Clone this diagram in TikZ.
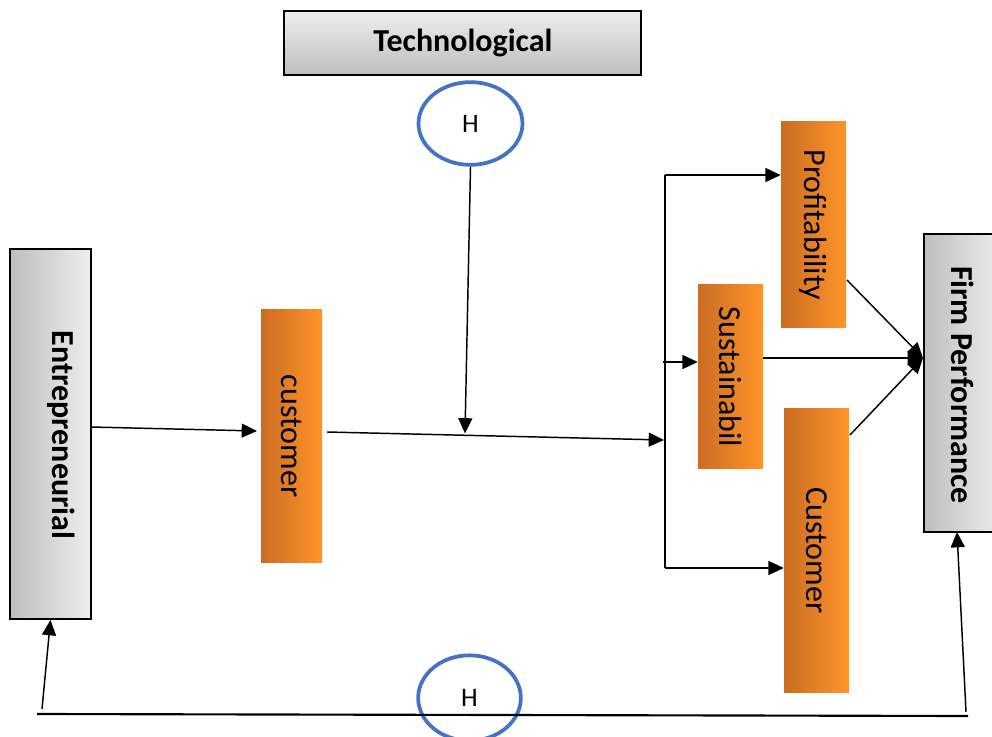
\documentclass[tikz,border=0pt]{standalone}
\usepackage{fontspec}
\setmainfont{Carlito}
\usetikzlibrary{arrows.meta,shapes.geometric}
\definecolor{hblue}{HTML}{4472C4}
\definecolor{orL}{RGB}{202,108,34}
\definecolor{orR}{RGB}{255,148,42}
\definecolor{gyD}{RGB}{190,190,190}
\definecolor{gyL}{RGB}{238,238,238}
\tikzset{
  graybox/.style={draw=black, line width=1.4pt, inner sep=0pt, left color=gyD, right color=gyL},
  orbox/.style={draw=none, inner sep=0pt, left color=orL, right color=orR},
  hell/.style={ellipse, draw=hblue, line width=2.8pt, inner sep=0pt, font=\fontsize{20}{24}\selectfont},
  vtxt/.style={rotate=-90, inner sep=0pt, font=\fontsize{24}{28}\selectfont},
  vbold/.style={rotate=-90, inner sep=0pt, font=\fontsize{24}{28}\selectfont\bfseries},
  arr/.style={line width=1.1pt, -{Triangle[length=11.5pt,width=10.5pt]}},
  ln/.style={line width=1.1pt}
}
\begin{document}
\begin{tikzpicture}[x=0.75pt,y=-0.75pt]
\clip (0,0) rectangle (992,737);
\fill[white] (0,0) rectangle (992,737);

% boxes
\node[graybox, top color=gyL, bottom color=gyD, minimum width=267.75pt, minimum height=48pt] (tech) at (462.5,43) {};
\node[font=\fontsize{24}{28}\selectfont\bfseries] (techT) at (463,43) {Technological};

\node[graybox, minimum width=60.75pt, minimum height=277.5pt] (ent) at (50.5,434) {};
\node[vbold, anchor=base] (entT) at (52,435) {Entrepreneurial};

\node[orbox, minimum width=45.75pt, minimum height=189pt] (cust1) at (291.5,436) {};
\node[vtxt] (cust1T) at (cust1) {customer};

\node[orbox, minimum width=48.75pt, minimum height=154.5pt] (prof) at (813.5,225) {};
\node[vtxt] (profT) at (prof) {Profitability};

\node[orbox, minimum width=48.75pt, minimum height=138pt] (sust) at (730.5,377) {};
\node[vtxt] (sustT) at (sust) {Sustainabil};

\node[orbox, minimum width=48.75pt, minimum height=212.25pt] (cust2) at (816.5,550.5) {};
\node[vtxt] (cust2T) at (cust2) {Customer};

\node[graybox, minimum width=58.5pt, minimum height=223.5pt] (firm) at (963,383) {};
\node[vbold] (firmT) at (963,385) {Firm Performance};

% ellipses
\node[hell, minimum width=78pt, minimum height=62pt] (h1) at (470.5,123.5) {H};
\node[hell, minimum width=77pt, minimum height=64pt] (h2) at (469.5,698) {H};

% coordinates
\coordinate (a0) at (91,427);
\coordinate (a1) at (257,431);
\coordinate (m0) at (327,432);
\coordinate (mt) at (465,433.5);
\coordinate (j) at (664,440);
\coordinate (vtop) at (665,175);
\coordinate (vmid) at (663,362);
\coordinate (vbot) at (665,568);
\coordinate (fin) at (923,358);
\coordinate (p0) at (847,280);
\coordinate (c0) at (850,435);
\coordinate (bl) at (37,714);
\coordinate (br) at (968,716);
\coordinate (bl0) at (42,709);
\coordinate (br0) at (966,712);
\coordinate (ftip) at (957,532);

% connectors
\draw[arr] (a0) -- (a1);
\draw[arr] (h1.south) -- (mt);
\draw[arr] (m0) -- (j);
\draw[ln] (vtop) -- (vbot);
\draw[arr] (vtop) -- (prof.west |- vtop);
\draw[arr] (vmid) -- (sust.west |- vmid);
\draw[arr] (vbot) -- (cust2.west |- vbot);
\draw[arr] (p0) -- (fin);
\draw[arr] (sust.east |- fin) -- (fin);
\draw[arr] (c0) -- (fin);
\draw[line width=1.6pt] (bl) -- (br);
\draw[arr] (bl0) -- (ent.south);
\draw[arr] (br0) -- (ftip);
\end{tikzpicture}
\end{document}
